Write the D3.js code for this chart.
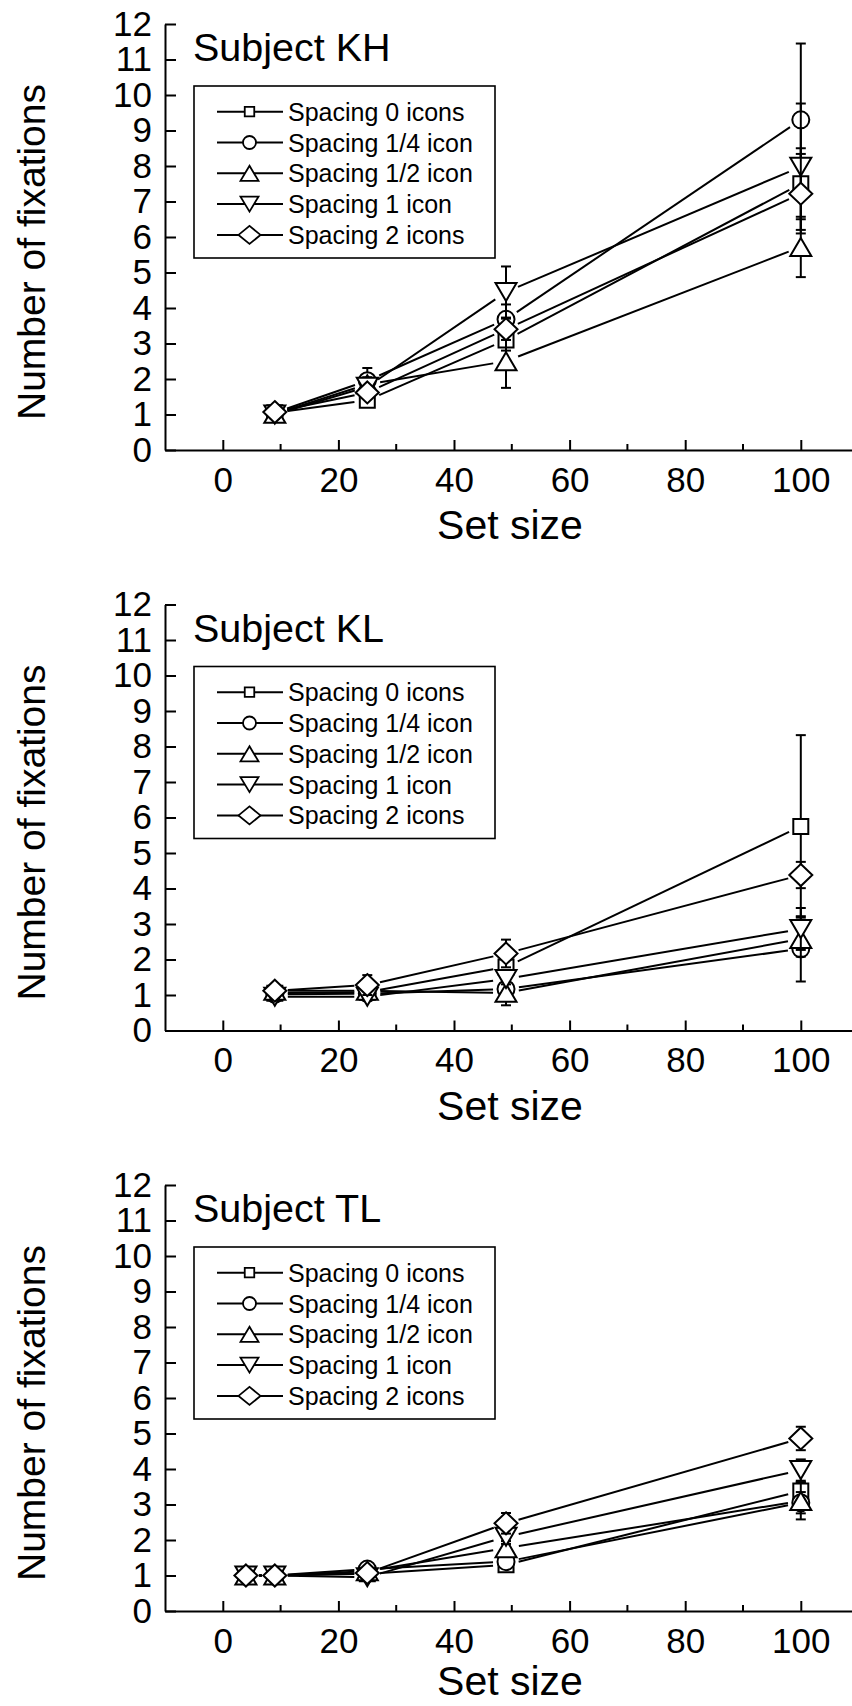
<!DOCTYPE html>
<html>
<head>
<meta charset="utf-8">
<script src="https://cdn.jsdelivr.net/npm/d3@7"></script>
<style>
  body { margin: 0; background: #fff; }
  svg { display: block; font-family: "Liberation Sans", Arial, sans-serif; }
</style>
</head>
<body>
<svg id="chart" width="852" height="1706"></svg>
<script>
// Number of fixations vs set size, three subjects
const seriesNames = ['Spacing 0 icons', 'Spacing 1/4 icon', 'Spacing 1/2 icon', 'Spacing 1 icon', 'Spacing 2 icons'];
const markerTypes = ['square', 'circle', 'triUp', 'triDown', 'diamond'];

const setSizesKH = [9, 25, 49, 100];
const setSizesKL = [9, 25, 49, 100];
const setSizesTL = [4, 9, 25, 49, 100];

// one row per spacing (same order as seriesNames)
const khMeans = [
  [1.05, 1.40, 3.10, 7.50],
  [1.05, 1.95, 3.68, 9.30],
  [1.02, 1.85, 2.50, 5.72],
  [1.00, 1.78, 4.45, 7.98],
  [1.07, 1.62, 3.40, 7.22]
];
const khErrs = [
  [0.10, 0.18, 0.30, 1.00],
  [0.10, 0.36, 0.42, 2.15],
  [0.10, 0.20, 0.75, 0.85],
  [0.12, 0.22, 0.72, 1.78],
  [0.08, 0.15, 0.30, 1.12]
];

const klMeans = [
  [1.05, 1.08, 1.79, 5.75],
  [1.02, 1.04, 1.17, 2.30],
  [1.12, 1.12, 1.06, 2.58],
  [0.95, 0.95, 1.45, 2.86],
  [1.12, 1.28, 2.17, 4.38]
];
const klErrs = [
  [0.08, 0.08, 0.20, 2.57],
  [0.06, 0.06, 0.12, 0.92],
  [0.10, 0.08, 0.35, 0.50],
  [0.08, 0.08, 0.15, 0.59],
  [0.10, 0.28, 0.39, 0.37]
];

const tlMeans = [
  [1.00, 1.00, 1.05, 1.30, 3.38],
  [1.00, 1.00, 1.18, 1.39, 3.05],
  [1.00, 1.00, 1.12, 1.77, 3.10],
  [1.00, 1.00, 0.95, 2.09, 3.97],
  [1.00, 1.00, 1.07, 2.47, 4.86]
];
const tlErrs = [
  [0.05, 0.05, 0.08, 0.12, 0.25],
  [0.05, 0.05, 0.08, 0.12, 0.30],
  [0.05, 0.05, 0.10, 0.20, 0.52],
  [0.05, 0.05, 0.08, 0.20, 0.30],
  [0.05, 0.05, 0.08, 0.29, 0.33]
];

const xTicks = [0, 20, 40, 60, 80, 100];
const xMinorTicks = [10, 30, 50, 70, 90, 110];
const yTicks = [0, 1, 2, 3, 4, 5, 6, 7, 8, 9, 10, 11, 12];

const panels = [
  { title: 'Subject KH', sizes: setSizesKH, means: khMeans, errs: khErrs },
  { title: 'Subject KL', sizes: setSizesKL, means: klMeans, errs: klErrs },
  { title: 'Subject TL', sizes: setSizesTL, means: tlMeans, errs: tlErrs }
];

const svg = d3.select('#chart');
const plotH = 426;
const axisX0 = 165;
const font = '"Liberation Sans", Arial, sans-serif';

const plotMarker = { sq: 15, r: 8.5, tw: 21, th: 18, dw: 23, dh: 22 };
const legendMarker = { sq: 9.5, r: 6.5, tw: 18, th: 15, dw: 22, dh: 18 };

function markerPath(type, s) {
  switch (type) {
    case 'square': { const h = s.sq / 2; return `M${-h},${-h}H${h}V${h}H${-h}Z`; }
    case 'circle': { const r = s.r; return `M${-r},0A${r},${r} 0 1,0 ${r},0A${r},${r} 0 1,0 ${-r},0Z`; }
    case 'triUp': return `M0,${-s.th / 2}L${s.tw / 2},${s.th / 2}L${-s.tw / 2},${s.th / 2}Z`;
    case 'triDown': return `M0,${s.th / 2}L${s.tw / 2},${-s.th / 2}L${-s.tw / 2},${-s.th / 2}Z`;
    case 'diamond': return `M0,${-s.dh / 2}L${s.dw / 2},0L0,${s.dh / 2}L${-s.dw / 2},0Z`;
  }
}

// segment between two points, cut short near the symbols
function gappedSegment(p, q, gap) {
  const dx = q[0] - p[0], dy = q[1] - p[1];
  const len = Math.hypot(dx, dy);
  if (len <= gap * 2) return null;
  const ux = dx / len, uy = dy / len;
  return [[p[0] + ux * gap, p[1] + uy * gap], [q[0] - ux * gap, q[1] - uy * gap]];
}

panels.forEach((p, i) => {
  const top = 24 + i * 580.5;
  const y0 = top + plotH;
  const g = svg.append('g');

  const x = d3.scaleLinear().domain([-10, 110]).range([axisX0, axisX0 + 120 * 5.78]);
  const y = d3.scaleLinear().domain([0, 12]).range([y0, top]);

  // y axis
  const yAxis = g.append('g')
    .attr('transform', `translate(${axisX0},0)`)
    .call(d3.axisLeft(y).tickValues(yTicks).tickSizeInner(-11).tickSizeOuter(0).tickPadding(13));
  // x axis
  const xAxis = g.append('g')
    .attr('transform', `translate(0,${y0})`)
    .call(d3.axisBottom(x).tickValues(xTicks).tickSizeInner(-10).tickSizeOuter(0).tickPadding(17));
  xAxis.selectAll('.minor').data(xMinorTicks).enter().append('line')
    .attr('class', 'minor')
    .attr('x1', d => x(d)).attr('x2', d => x(d))
    .attr('y1', 0).attr('y2', -6)
    .attr('stroke', '#000').attr('stroke-width', 2);

  [yAxis, xAxis].forEach(a => {
    a.attr('font-family', font).attr('font-size', 35);
    a.selectAll('path.domain, line').attr('stroke', '#000').attr('stroke-width', 2);
    a.selectAll('text').attr('fill', '#000');
  });

  // axis titles
  g.append('text')
    .attr('transform', `translate(45,${y0 - 198}) rotate(-90)`)
    .attr('text-anchor', 'middle')
    .attr('font-size', 39)
    .text('Number of fixations');
  g.append('text')
    .attr('x', 510).attr('y', Math.min(y0 + 89, 1695))
    .attr('text-anchor', 'middle')
    .attr('font-size', 41)
    .text('Set size');

  // subject label
  g.append('text')
    .attr('x', 193).attr('y', top + 37)
    .attr('font-size', 39.5)
    .text(p.title);

  // legend
  const lg = g.append('g');
  lg.append('rect')
    .attr('x', 194).attr('y', top + 62)
    .attr('width', 301).attr('height', 172)
    .attr('fill', '#fff').attr('stroke', '#000').attr('stroke-width', 1.6);
  seriesNames.forEach((name, k) => {
    const cy = top + 87.7 + k * 30.8;
    lg.append('line')
      .attr('x1', 217).attr('x2', 283).attr('y1', cy).attr('y2', cy)
      .attr('stroke', '#000').attr('stroke-width', 2);
    lg.append('path')
      .attr('transform', `translate(249.5,${cy})`)
      .attr('d', markerPath(markerTypes[k], legendMarker))
      .attr('fill', '#fff').attr('stroke', '#000').attr('stroke-width', 1.8);
    lg.append('text')
      .attr('x', 288).attr('y', cy + 9)
      .attr('font-size', 25)
      .text(name);
  });

  // series
  p.means.forEach((vals, k) => {
    const sg = g.append('g');
    const pts = vals.map((v, j) => [x(p.sizes[j]), y(v)]);
    for (let j = 0; j < pts.length - 1; j++) {
      const seg = gappedSegment(pts[j], pts[j + 1], 13);
      if (!seg) continue;
      sg.append('line')
        .attr('x1', seg[0][0]).attr('y1', seg[0][1])
        .attr('x2', seg[1][0]).attr('y2', seg[1][1])
        .attr('stroke', '#000').attr('stroke-width', 2);
    }
    vals.forEach((v, j) => {
      const e = p.errs[k][j];
      const cx = x(p.sizes[j]);
      const yHi = y(v + e), yLo = y(v - e);
      sg.append('line').attr('x1', cx).attr('x2', cx).attr('y1', yHi).attr('y2', yLo)
        .attr('stroke', '#000').attr('stroke-width', 2);
      [yHi, yLo].forEach(yy => {
        sg.append('line').attr('x1', cx - 5).attr('x2', cx + 5).attr('y1', yy).attr('y2', yy)
          .attr('stroke', '#000').attr('stroke-width', 2);
      });
    });
    sg.selectAll('path.mk').data(vals).enter().append('path')
      .attr('class', 'mk')
      .attr('transform', (v, j) => `translate(${x(p.sizes[j])},${y(v)})`)
      .attr('d', markerPath(markerTypes[k], plotMarker))
      .attr('fill', '#fff').attr('stroke', '#000').attr('stroke-width', 2);
  });
});
</script>
</body>
</html>
